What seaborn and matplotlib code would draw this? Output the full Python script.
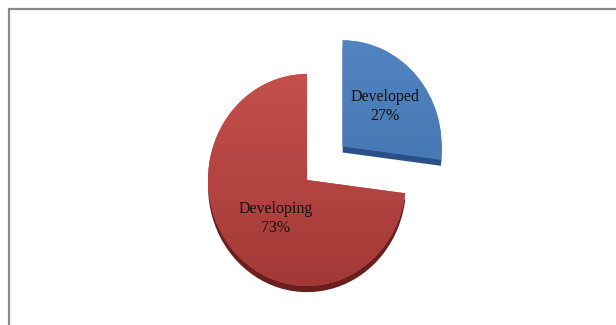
import numpy as np
import matplotlib
matplotlib.use("Agg")
import matplotlib.pyplot as plt
import seaborn as sns
from matplotlib.colors import LinearSegmentedColormap
from matplotlib.patches import Rectangle

# Share of the total by country group
categories = ["Developed", "Developing"]
shares = [27, 73]

sns.set_theme(style="white")
plt.rcParams["font.family"] = ["Liberation Serif", "DejaVu Serif"]

top_colors = ["#5184c1", "#c5504d"]
bottom_colors = ["#4070aa", "#a23936"]
side_colors = ["#2a5187", "#6a1f1d"]
explode = [0.48, 0.0]
label_dist = [0.57, 0.48]
label_turn = [0.0, 7.0]   # degrees, nudges a label around its slice

fig = plt.figure(figsize=(6.16, 3.25), dpi=100)
ax = fig.add_axes([0, 0, 1, 1])

pie_kw = dict(explode=explode, startangle=90, counterclock=False,
              wedgeprops=dict(linewidth=0))

# extruded side faces: the same slices pushed down a little
depth = 0.058
ax.pie(shares, colors=side_colors, center=(0, -depth), **pie_kw)
wedges, _ = ax.pie(shares, colors=top_colors, **pie_kw)

# vertical shading on each top face
grad = np.linspace(1, 0, 256).reshape(-1, 1)
for w, c_top, c_bot in zip(wedges, top_colors, bottom_colors):
    cx, cy = w.center
    cmap = LinearSegmentedColormap.from_list("shade", [c_bot, c_top])
    im = ax.imshow(grad, cmap=cmap, aspect="auto", origin="upper",
                   extent=(cx - 1.05, cx + 1.05, cy - 1.05, cy + 1.05),
                   zorder=w.get_zorder() + 0.1)
    im.set_clip_path(w)

# slice labels
for w, cat, share, d, turn in zip(wedges, categories, shares, label_dist, label_turn):
    cx, cy = w.center
    mid = np.deg2rad((w.theta1 + w.theta2) / 2 + turn)
    ax.text(cx + d * np.cos(mid), cy + d * np.sin(mid), f"{cat}\n{share}%",
            ha="center", va="center", fontsize=11.5, linespacing=1.25,
            color="#111111", zorder=5)

rx, ry = 99, 106
cxp, cyp = 307, 180
ax.set_xlim(-cxp / rx, (616 - cxp) / rx)
ax.set_ylim(-(325 - cyp) / ry, cyp / ry)
ax.set_aspect("auto")
ax.axis("off")

# chart area frame
fig.add_artist(Rectangle((8.5 / 616, -0.5), 2.0, 1 - 8.5 / 325 + 0.5,
                         transform=fig.transFigure, fill=False,
                         edgecolor="#8a8a8a", linewidth=1.6))

fig.savefig("out.png", dpi=100)
